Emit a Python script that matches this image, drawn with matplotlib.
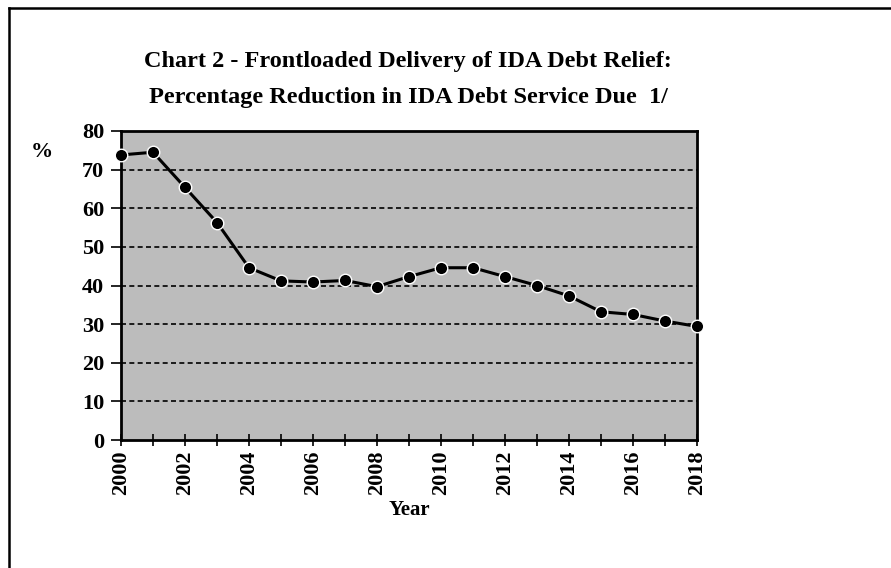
import matplotlib
matplotlib.use("Agg")
import matplotlib.pyplot as plt
from matplotlib.lines import Line2D

years = list(range(2000, 2019))
reduction = [73.8, 74.5, 65.4, 56.3, 44.6, 41.2, 40.9, 41.3, 39.7, 42.3,
             44.6, 44.6, 42.3, 40.0, 37.3, 33.2, 32.5, 30.8, 29.4]
yticks = [0, 10, 20, 30, 40, 50, 60, 70, 80]
xticklabels_years = list(range(2000, 2019, 2))

title_lines = ["Chart 2 - Frontloaded Delivery of IDA Debt Relief:",
               "Percentage Reduction in IDA Debt Service Due  1/"]

plt.rcParams['font.family'] = ['Liberation Serif', 'DejaVu Serif']

fig = plt.figure(figsize=(8.91, 5.68), dpi=100)
ax = fig.add_axes([121/891, 1-440/568, 576/891, 309/568])
ax.set_facecolor('#bcbcbc')

for v in yticks[1:-1]:
    ax.axhline(v, color='black', lw=1.2, ls=(0, (3, 2)), zorder=1)

ax.plot(years, reduction, color='black', lw=2.2, marker='o', ms=9,
        mfc='black', mec='white', mew=1.0, zorder=3, clip_on=False)

ax.set_xlim(2000, 2018)
ax.set_ylim(0, 80)
ax.set_yticks(yticks)
ax.set_yticklabels([str(v) for v in yticks], fontsize=16, fontweight='bold')
ax.set_xticks(years)
ax.set_xticklabels([str(y) if y in xticklabels_years else '' for y in years],
                   rotation=90, fontsize=16, fontweight='bold')
ax.tick_params(axis='x', direction='inout', length=9, width=1.2, pad=3)
ax.tick_params(axis='y', direction='out', length=7, width=1.2, pad=5)
for s in ax.spines.values():
    s.set_linewidth(2)
    s.set_color('black')

ax.set_xlabel('Year', fontsize=15, fontweight='bold', labelpad=4)
fig.text(42/891, 1-152/568, '%', fontsize=16, fontweight='bold', ha='center', va='center')

fig.text(408/891, 1-61/568, title_lines[0], fontsize=17.5, fontweight='bold',
         ha='center', va='center')
fig.text(408/891, 1-97/568, title_lines[1], fontsize=17.5, fontweight='bold',
         ha='center', va='center')

fig.add_artist(Line2D([9/891, 9/891], [0, 1-8/568], color='black', lw=1.8,
                      transform=fig.transFigure))
fig.add_artist(Line2D([9/891, 1], [1-8/568, 1-8/568], color='black', lw=1.8,
                      transform=fig.transFigure))

fig.savefig('out.png', dpi=100)
